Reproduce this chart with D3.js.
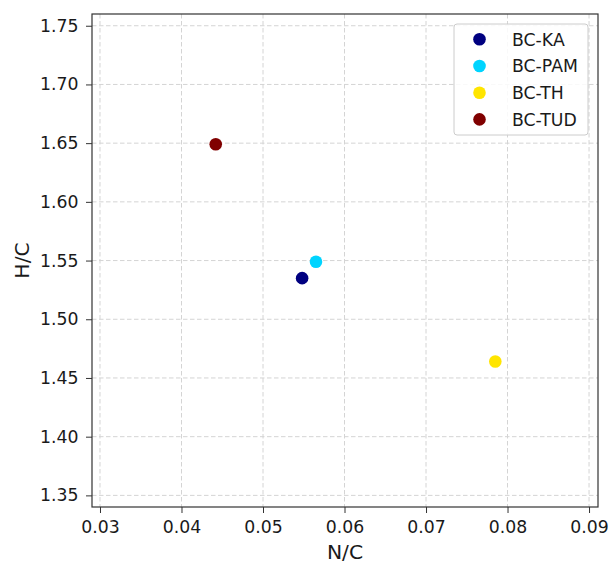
<!DOCTYPE html>
<html>
<head>
<meta charset="utf-8">
<script src="https://cdn.jsdelivr.net/npm/d3@7"></script>
<style>
  html, body { margin: 0; padding: 0; background: #fff; }
  svg { display: block; font-family: "DejaVu Sans", sans-serif; }
</style>
</head>
<body>
<svg id="chart" width="610" height="563"></svg>
<script>
// Biochar samples and their atomic ratios
const samples = ["BC-KA", "BC-PAM", "BC-TH", "BC-TUD"];
const ncRatio = [0.0548, 0.0565, 0.0785, 0.0442];
const hcRatio = [1.535, 1.549, 1.464, 1.649];
const sampleColors = ["#000080", "#00d4ff", "#ffe500", "#800000"];

const xTicks = [0.03, 0.04, 0.05, 0.06, 0.07, 0.08, 0.09];
const yTicks = [1.35, 1.40, 1.45, 1.50, 1.55, 1.60, 1.65, 1.70, 1.75];

const svg = d3.select("#chart");
const plot = { left: 92, right: 598, top: 14, bottom: 507 };

const x = d3.scaleLinear().domain([0.02902, 0.0911]).range([plot.left, plot.right]);
const y = d3.scaleLinear().domain([1.3401, 1.7600]).range([plot.bottom, plot.top]);

// grid
const grid = svg.append("g").attr("stroke", "#d4d4d4").attr("stroke-width", 1)
  .attr("stroke-dasharray", "4.5,2.5");
grid.selectAll("line.v").data(xTicks).join("line")
  .attr("x1", d => x(d)).attr("x2", d => x(d))
  .attr("y1", plot.top).attr("y2", plot.bottom);
grid.selectAll("line.h").data(yTicks).join("line")
  .attr("x1", plot.left).attr("x2", plot.right)
  .attr("y1", d => y(d)).attr("y2", d => y(d));

// axes
const xAxis = d3.axisBottom(x).tickValues(xTicks).tickFormat(d3.format(".2f"))
  .tickSize(6).tickPadding(8);
const yAxis = d3.axisLeft(y).tickValues(yTicks).tickFormat(d3.format(".2f"))
  .tickSize(6).tickPadding(7.5);

const gx = svg.append("g").attr("transform", `translate(0,${plot.bottom})`).call(xAxis);
const gy = svg.append("g").attr("transform", `translate(${plot.left},0)`).call(yAxis);
[gx, gy].forEach(g => {
  g.select(".domain").remove();
  g.selectAll(".tick line").attr("stroke", "#333").attr("stroke-width", 1);
  g.selectAll(".tick text").attr("fill", "#1a1a1a").style("font-size", "17.3px")
    .style("font-family", "DejaVu Sans, sans-serif");
});

// frame
svg.append("rect")
  .attr("x", plot.left).attr("y", plot.top)
  .attr("width", plot.right - plot.left).attr("height", plot.bottom - plot.top)
  .attr("fill", "none").attr("stroke", "#333").attr("stroke-width", 1.2);

// points
svg.append("g").selectAll("circle").data(samples).join("circle")
  .attr("cx", (d, i) => x(ncRatio[i]))
  .attr("cy", (d, i) => y(hcRatio[i]))
  .attr("r", 6.3)
  .attr("fill", (d, i) => sampleColors[i]);

// axis titles
svg.append("text").attr("x", (plot.left + plot.right) / 2).attr("y", 559)
  .attr("text-anchor", "middle").style("font-size", "20.3px").attr("fill", "#1a1a1a")
  .text("N/C");
svg.append("text")
  .attr("transform", `translate(28.5,${(plot.top + plot.bottom) / 2}) rotate(-90)`)
  .attr("text-anchor", "middle").style("font-size", "20.3px").attr("fill", "#1a1a1a")
  .text("H/C");

// legend
const legend = svg.append("g");
legend.append("rect")
  .attr("x", 454).attr("y", 24).attr("width", 134).attr("height", 111)
  .attr("rx", 3).attr("fill", "#fff").attr("fill-opacity", 0.85)
  .attr("stroke", "#cccccc").attr("stroke-width", 1);
const items = legend.selectAll("g.item").data(samples).join("g")
  .attr("transform", (d, i) => `translate(0,${39.3 + i * 26.7})`);
items.append("circle").attr("cx", 479.5).attr("cy", 0).attr("r", 6.3)
  .attr("fill", (d, i) => sampleColors[i]);
items.append("text").attr("x", 512).attr("y", 6.2)
  .style("font-size", "17.3px").attr("fill", "#1a1a1a").text(d => d);
</script>
</body>
</html>
